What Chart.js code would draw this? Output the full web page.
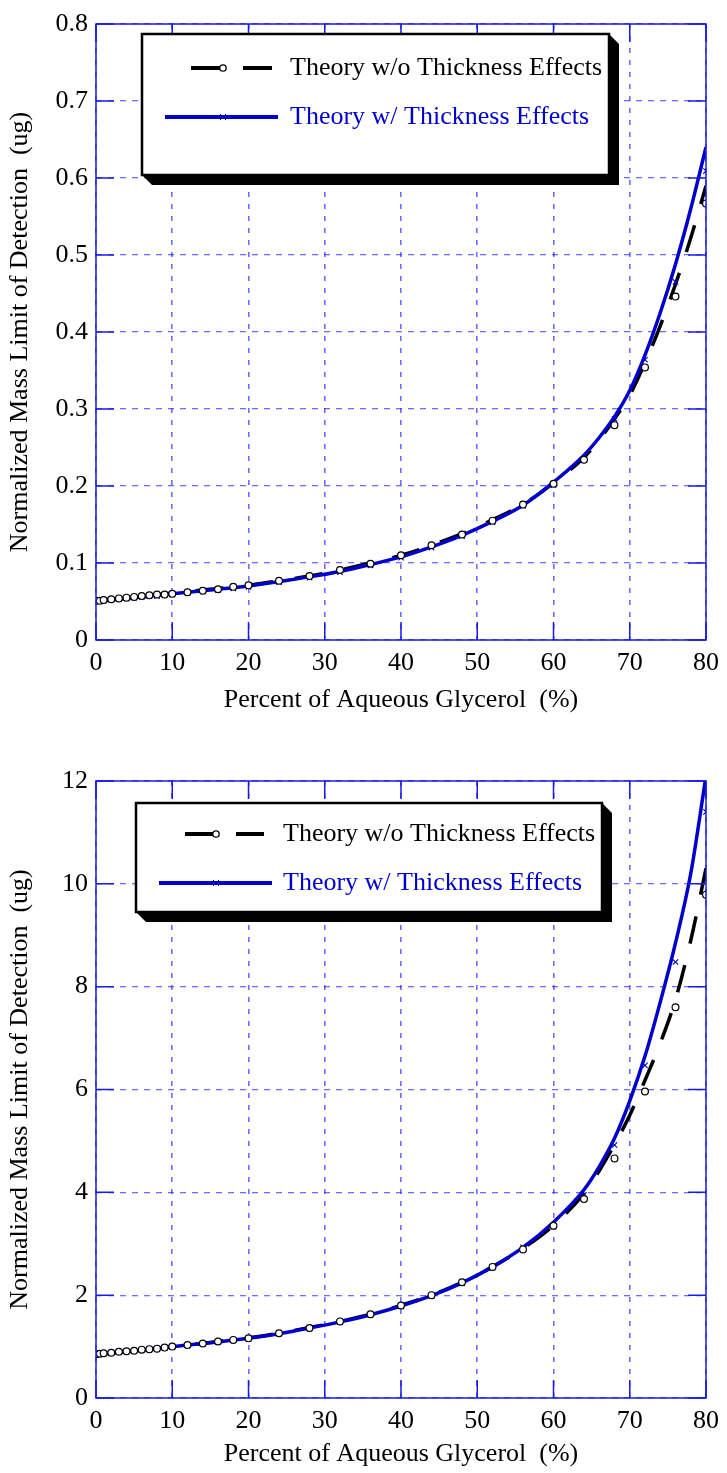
<!DOCTYPE html>
<html>
<head>
<meta charset="utf-8">
<script src="https://cdn.jsdelivr.net/npm/chart.js@4.4.0/dist/chart.umd.min.js"></script>
<style>
body { margin: 0; background: #fff; }
.box { position: absolute; left: 0; width: 727px; }
#topBox { top: 0; height: 737px; }
#bottomBox { top: 737px; height: 736px; }
</style>
</head>
<body>
<div class="box" id="topBox"><canvas id="chartTop"></canvas></div>
<div class="box" id="bottomBox"><canvas id="chartBottom"></canvas></div>
<script>
// 数据点位置 (% glycerol)
const markerX = [0, 0.5, 1, 2, 3, 4, 5, 6, 7, 8, 9, 10, 12, 14, 16, 18, 20, 24, 28, 32, 36, 40, 44, 48, 52, 56, 60, 64, 68, 72, 76, 80];
const lineX = [0, 4, 8, 12, 16, 20, 24, 28, 32, 36, 40, 44, 48, 52, 56, 60, 64, 66, 68, 70, 72, 74, 76, 78, 80];

// 上图 (0 - 0.8 ug)
const topCircleY = [0.051, 0.051, 0.052, 0.053, 0.054, 0.055, 0.056, 0.057, 0.058, 0.059, 0.059, 0.060, 0.062, 0.064, 0.066, 0.069, 0.071, 0.077, 0.083, 0.091, 0.099, 0.110, 0.123, 0.137, 0.155, 0.176, 0.203, 0.234, 0.279, 0.354, 0.446, 0.567];
const topCrossY = [0.050, 0.050, 0.051, 0.052, 0.053, 0.054, 0.055, 0.056, 0.057, 0.057, 0.058, 0.059, 0.061, 0.063, 0.065, 0.067, 0.069, 0.075, 0.081, 0.088, 0.097, 0.107, 0.120, 0.135, 0.153, 0.174, 0.201, 0.234, 0.287, 0.364, 0.465, 0.609];
const topDashedY = [0.051, 0.055, 0.059, 0.063, 0.067, 0.071, 0.077, 0.083, 0.091, 0.100, 0.110, 0.123, 0.138, 0.156, 0.176, 0.204, 0.237, 0.260, 0.287, 0.318, 0.360, 0.408, 0.462, 0.522, 0.590];
const topSolidY = [0.050, 0.054, 0.058, 0.062, 0.066, 0.070, 0.076, 0.082, 0.089, 0.098, 0.108, 0.121, 0.136, 0.154, 0.175, 0.205, 0.240, 0.263, 0.290, 0.324, 0.370, 0.425, 0.488, 0.560, 0.640];

// 下图 (0 - 12 ug)
const bottomCircleY = [0.85, 0.86, 0.87, 0.88, 0.90, 0.91, 0.92, 0.94, 0.95, 0.96, 0.98, 1.00, 1.03, 1.06, 1.10, 1.13, 1.16, 1.26, 1.36, 1.49, 1.63, 1.80, 2.00, 2.25, 2.55, 2.89, 3.35, 3.87, 4.66, 5.96, 7.60, 9.79];
const bottomCrossY = [0.84, 0.85, 0.86, 0.87, 0.89, 0.90, 0.91, 0.93, 0.94, 0.95, 0.97, 0.99, 1.02, 1.05, 1.09, 1.12, 1.15, 1.25, 1.35, 1.48, 1.62, 1.78, 1.98, 2.23, 2.54, 2.93, 3.33, 3.95, 4.92, 6.47, 8.48, 11.40];
const bottomDashedY = [0.85, 0.91, 0.97, 1.03, 1.10, 1.17, 1.26, 1.37, 1.49, 1.63, 1.80, 2.00, 2.25, 2.55, 2.91, 3.36, 3.98, 4.42, 4.93, 5.50, 6.18, 6.90, 7.75, 8.90, 10.30];
const bottomSolidY = [0.84, 0.90, 0.96, 1.03, 1.09, 1.16, 1.25, 1.36, 1.48, 1.62, 1.79, 1.99, 2.24, 2.55, 2.93, 3.42, 4.05, 4.50, 5.05, 5.78, 6.65, 7.70, 8.85, 10.20, 12.10];

const seriesLabels = ['Theory w/o Thickness Effects', 'Theory w/ Thickness Effects'];
const xTitle = 'Percent of Aqueous Glycerol  (%)';
const yTitle = 'Normalized Mass Limit of Detection  (ug)';

const FONT = "'Liberation Serif', 'Times New Roman', serif";
const BLUE = '#0000cc';
const GRID = 'rgba(30, 30, 255, 0.65)';
const AXIS = '#1a1ae6';

function pts(xs, ys) {
    return xs.map((x, i) => ({ x: x, y: ys[i] }));
}

// 边框、内侧刻度和图例
const framePlugin = {
    id: 'framePlugin',
    afterDraw(chart, args, opts) {
        const ctx = chart.ctx;
        const a = chart.chartArea;
        const xs = chart.scales.x;
        const ys = chart.scales.y;
        const tl = 18;
        ctx.save();
        ctx.strokeStyle = AXIS;
        ctx.lineWidth = 1.5;
        ctx.setLineDash([]);
        ctx.strokeRect(a.left, a.top, a.right - a.left, a.bottom - a.top);
        ctx.lineWidth = 1.5;
        ctx.beginPath();
        xs.ticks.forEach(t => {
            const px = xs.getPixelForValue(t.value);
            ctx.moveTo(px, a.bottom); ctx.lineTo(px, a.bottom - tl);
            ctx.moveTo(px, a.top); ctx.lineTo(px, a.top + tl);
        });
        ys.ticks.forEach(t => {
            const py = ys.getPixelForValue(t.value);
            ctx.moveTo(a.left, py); ctx.lineTo(a.left + tl, py);
            ctx.moveTo(a.right, py); ctx.lineTo(a.right - tl, py);
        });
        ctx.stroke();

        // 图例框（带阴影）
        const L = opts;
        const s = 10;
        ctx.fillStyle = '#000';
        ctx.beginPath();
        ctx.moveTo(L.x + L.w, L.y);
        ctx.lineTo(L.x + L.w + s, L.y + s);
        ctx.lineTo(L.x + L.w + s, L.y + L.h + s);
        ctx.lineTo(L.x + s, L.y + L.h + s);
        ctx.lineTo(L.x, L.y + L.h);
        ctx.closePath();
        ctx.fill();
        ctx.fillStyle = '#fff';
        ctx.fillRect(L.x, L.y, L.w, L.h);
        ctx.strokeStyle = '#000';
        ctx.lineWidth = 2.5;
        ctx.strokeRect(L.x, L.y, L.w, L.h);

        // 第一行：黑色虚线 + 圆圈
        ctx.lineWidth = 4;
        ctx.beginPath();
        ctx.moveTo(L.b1, L.r1); ctx.lineTo(L.mk - 3, L.r1);
        ctx.moveTo(L.d1, L.r1); ctx.lineTo(L.d2, L.r1);
        ctx.stroke();
        ctx.lineWidth = 1.3;
        ctx.beginPath();
        ctx.arc(L.mk, L.r1, 3.2, 0, Math.PI * 2);
        ctx.fillStyle = '#fff';
        ctx.fill();
        ctx.stroke();

        // 第二行：蓝色实线 + 叉
        ctx.strokeStyle = BLUE;
        ctx.lineWidth = 4;
        ctx.beginPath();
        ctx.moveTo(L.s1, L.r2); ctx.lineTo(L.s2, L.r2);
        ctx.stroke();
        ctx.lineWidth = 1;
        ctx.beginPath();
        ctx.moveTo(L.mk - 3, L.r2 - 3); ctx.lineTo(L.mk + 3, L.r2 + 3);
        ctx.moveTo(L.mk - 3, L.r2 + 3); ctx.lineTo(L.mk + 3, L.r2 - 3);
        ctx.stroke();

        ctx.font = '26px ' + FONT;
        ctx.textBaseline = 'middle';
        ctx.textAlign = 'left';
        ctx.fillStyle = '#000';
        ctx.fillText(seriesLabels[0], L.tx, L.r1);
        ctx.fillStyle = BLUE;
        ctx.fillText(seriesLabels[1], L.tx, L.r2);
        ctx.restore();
    }
};

function makeChart(id, cfg) {
    const ctx = document.getElementById(id);
    if (!ctx) {
        console.error('无法找到元素', id);
        return null;
    }
    return new Chart(ctx.getContext('2d'), {
        type: 'scatter',
        data: {
            datasets: [
                {
                    label: 'circles',
                    data: pts(markerX, cfg.circles),
                    showLine: false,
                    pointStyle: 'circle',
                    pointRadius: 3.4,
                    pointBackgroundColor: '#fff',
                    pointBorderColor: '#000',
                    pointBorderWidth: 1.2
                },
                {
                    label: 'crosses',
                    data: pts(markerX, cfg.crosses),
                    showLine: false,
                    pointStyle: 'crossRot',
                    pointRadius: 3.8,
                    pointBorderColor: BLUE,
                    pointBorderWidth: 1.1
                },
                {
                    label: seriesLabels[1],
                    data: pts(lineX, cfg.solid),
                    showLine: true,
                    pointRadius: 0,
                    borderColor: BLUE,
                    borderWidth: 3.5,
                    cubicInterpolationMode: 'monotone'
                },
                {
                    label: seriesLabels[0],
                    data: pts(lineX, cfg.dashed),
                    showLine: true,
                    pointRadius: 0,
                    borderColor: '#000',
                    borderWidth: 3.5,
                    borderDash: [28, 22],
                    cubicInterpolationMode: 'monotone'
                }
            ]
        },
        options: {
            responsive: true,
            maintainAspectRatio: false,
            animation: false,
            layout: {
                padding: { top: cfg.padTop, right: 13, left: 0, bottom: 0 }
            },
            plugins: {
                legend: { display: false },
                tooltip: { enabled: false },
                framePlugin: cfg.legend
            },
            scales: {
                x: {
                    type: 'linear',
                    min: 0,
                    max: 80,
                    afterFit: function(scale) { scale.height = cfg.xAxisH; },
                    ticks: {
                        stepSize: 10,
                        color: '#000',
                        padding: 8,
                        font: { family: FONT, size: 26 }
                    },
                    grid: { color: GRID, lineWidth: 1.6, drawTicks: false },
                    border: { display: false, dash: [5, 7] },
                    title: {
                        display: true,
                        text: xTitle,
                        color: '#000',
                        font: { family: FONT, size: 26 },
                        padding: { top: 0, bottom: cfg.xTitlePad }
                    }
                },
                y: {
                    type: 'linear',
                    min: 0,
                    max: cfg.yMax,
                    afterFit: function(scale) { scale.width = 96; },
                    ticks: {
                        stepSize: cfg.yStep,
                        color: '#000',
                        padding: 8,
                        font: { family: FONT, size: 26 },
                        callback: function(v) { return Number(v.toFixed(2)).toString(); }
                    },
                    grid: { color: GRID, lineWidth: 1.3, drawTicks: false },
                    border: { display: false, dash: [6, 6] },
                    title: {
                        display: true,
                        text: yTitle,
                        color: '#000',
                        font: { family: FONT, size: 26 },
                        padding: { top: 5, bottom: 0 }
                    }
                }
            }
        },
        plugins: [framePlugin]
    });
}

makeChart('chartTop', {
    circles: topCircleY,
    crosses: topCrossY,
    solid: topSolidY,
    dashed: topDashedY,
    yMax: 0.8,
    yStep: 0.1,
    padTop: 24,
    xAxisH: 97,
    xTitlePad: 21,
    legend: { x: 142, y: 34, w: 467, h: 141, r1: 68, r2: 117, b1: 191, mk: 223, d1: 243, d2: 272, s1: 165, s2: 278, tx: 290 }
});

makeChart('chartBottom', {
    circles: bottomCircleY,
    crosses: bottomCrossY,
    solid: bottomSolidY,
    dashed: bottomDashedY,
    yMax: 12,
    yStep: 2,
    padTop: 44,
    xAxisH: 75,
    xTitlePad: 3,
    legend: { x: 136, y: 66, w: 466, h: 109, r1: 97, r2: 146, b1: 185, mk: 216, d1: 236, d2: 264, s1: 159, s2: 272, tx: 283 }
});
</script>
</body>
</html>
